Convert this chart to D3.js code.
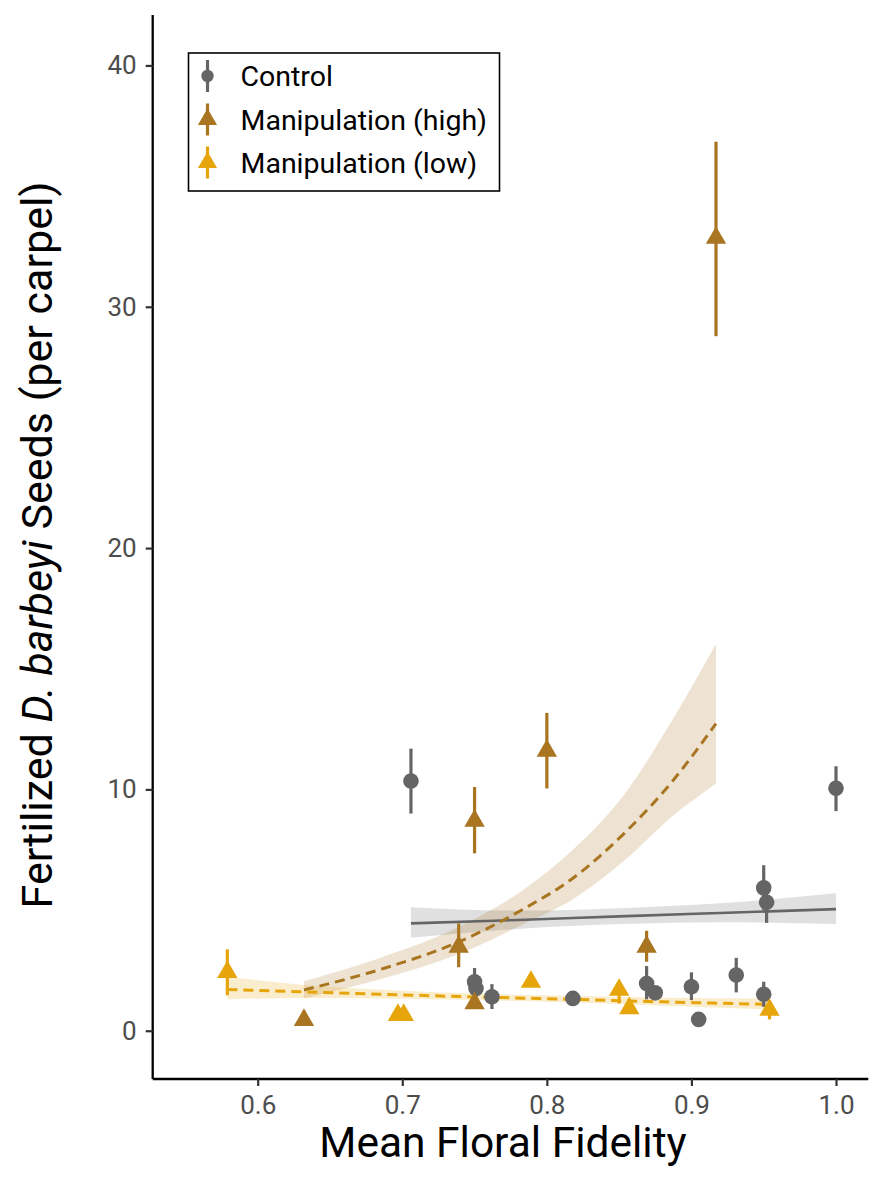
<!DOCTYPE html>
<html><head><meta charset="utf-8">
<script src="https://cdn.jsdelivr.net/npm/d3@7"></script>
<style>
body{margin:0;background:#fff}
svg{display:block}
text{font-family:Roboto,"Liberation Sans",sans-serif}
</style>
</head><body>
<svg id="chart" width="886" height="1200"></svg>
<script>
// ---------- data ----------
const groups = ["Control", "Manipulation (high)", "Manipulation (low)"];
const xTicks = [0.6, 0.7, 0.8, 0.9, 1.0];
const yTicks = [0, 10, 20, 30, 40];

const controlFidelity = [0.706, 0.750, 0.751, 0.762, 0.818, 0.869, 0.875, 0.900, 0.905, 0.931, 0.950, 0.950, 0.952, 1.000];
const controlSeeds    = [10.35, 2.03, 1.75, 1.41, 1.34, 1.96, 1.57, 1.82, 0.47, 2.31, 1.51, 5.92, 5.32, 10.05];
const controlLow      = [9.00, 1.45, 1.20, 0.90, 1.22, 1.30, 1.30, 1.27, 0.40, 1.59, 0.99, 5.00, 4.47, 9.10];
const controlHigh     = [11.69, 2.60, 2.30, 1.93, 1.46, 2.68, 1.85, 2.42, 0.54, 3.02, 2.03, 6.86, 6.10, 10.96];

const highFidelity = [0.632, 0.739, 0.750, 0.750, 0.800, 0.869, 0.917];
const highSeeds    = [0.44, 3.48, 1.13, 8.70, 11.60, 3.48, 32.85];
const highLow      = [0.38, 2.63, 0.95, 7.35, 10.04, 2.86, 28.78];
const highHigh     = [0.50, 4.45, 1.35, 10.10, 13.17, 4.14, 36.84];

const lowFidelity = [0.579, 0.697, 0.701, 0.789, 0.850, 0.857, 0.954];
const lowSeeds    = [2.43, 0.65, 0.65, 2.02, 1.69, 0.93, 0.86];
const lowLow      = [1.47, 0.58, 0.58, 1.85, 1.13, 0.82, 0.47];
const lowHigh     = [3.37, 0.75, 0.75, 2.22, 1.95, 1.05, 1.27];

// fitted curves
const controlFitX    = [0.706, 0.78, 0.85, 0.92, 1.0];
const controlFit     = [4.45, 4.59, 4.74, 4.88, 5.04];
const controlFitLow  = [3.85, 4.22, 4.42, 4.50, 4.42];
const controlFitHigh = [5.12, 4.98, 5.08, 5.28, 5.70];

const highFitX    = [0.632, 0.687, 0.739, 0.784, 0.818, 0.853, 0.887, 0.917];
const highFit     = [1.69, 2.58, 3.68, 5.05, 6.32, 8.15, 10.35, 12.73];
const highFitLow  = [1.34, 2.17, 3.18, 4.42, 5.45, 7.02, 8.90, 10.25];
const highFitHigh = [2.05, 3.07, 4.30, 5.85, 7.50, 9.75, 12.90, 16.04];

const lowFitX    = [0.579, 0.632, 0.687, 0.75, 0.818, 0.871, 0.954];
const lowFit     = [1.71, 1.61, 1.51, 1.40, 1.30, 1.21, 1.09];
const lowFitLow  = [1.30, 1.36, 1.34, 1.27, 1.17, 1.06, 0.88];
const lowFitHigh = [2.24, 1.90, 1.70, 1.54, 1.45, 1.38, 1.33];

// ---------- setup ----------
const colors = {"Control": "#656565", "Manipulation (high)": "#A97520", "Manipulation (low)": "#E6A50B"};
const svg = d3.select("#chart");
const pLeft = 152.7, pRight = 868.3, pTop = 15, pBottom = 1079;
const x = d3.scaleLinear().domain([0.52737, 1.02234]).range([pLeft, pRight]);
const y = d3.scaleLinear().domain([-2.0, 42.09]).range([pBottom, pTop]);

const zip = (xs, ys, lo, hi) => xs.map((v, i) => ({x: v, y: ys[i], lo: lo[i], hi: hi[i]}));

const fits = [
  {g: "Control", d: zip(controlFitX, controlFit, controlFitLow, controlFitHigh), dash: null},
  {g: "Manipulation (high)", d: zip(highFitX, highFit, highFitLow, highFitHigh), dash: "10,6"},
  {g: "Manipulation (low)", d: zip(lowFitX, lowFit, lowFitLow, lowFitHigh), dash: "10,6"}
];
const pts = [
  {g: "Control", shape: "circle", d: zip(controlFidelity, controlSeeds, controlLow, controlHigh)},
  {g: "Manipulation (high)", shape: "tri", d: zip(highFidelity, highSeeds, highLow, highHigh)},
  {g: "Manipulation (low)", shape: "tri", d: zip(lowFidelity, lowSeeds, lowLow, lowHigh)}
];

// ribbons
const area = d3.area().x(d => x(d.x)).y0(d => y(d.lo)).y1(d => y(d.hi)).curve(d3.curveMonotoneX);
const line = d3.line().x(d => x(d.x)).y(d => y(d.y)).curve(d3.curveMonotoneX);
fits.forEach(f => {
  svg.append("path").attr("d", area(f.d)).attr("fill", colors[f.g]).attr("fill-opacity", 0.2);
});
fits.forEach(f => {
  svg.append("path").attr("d", line(f.d)).attr("fill", "none")
    .attr("stroke", colors[f.g]).attr("stroke-width", f.dash ? 3 : 2.6)
    .attr("stroke-dasharray", f.dash);
});

// points with error bars
const tri = d3.symbol().type(d3.symbolTriangle).size(180);
pts.forEach(p => {
  const g = svg.append("g");
  g.selectAll("line").data(p.d).join("line")
    .attr("x1", d => x(d.x)).attr("x2", d => x(d.x))
    .attr("y1", d => y(d.lo)).attr("y2", d => y(d.hi))
    .attr("stroke", colors[p.g]).attr("stroke-width", 3.2);
  if (p.shape === "circle") {
    g.selectAll("circle").data(p.d).join("circle")
      .attr("cx", d => x(d.x)).attr("cy", d => y(d.y)).attr("r", 7.8)
      .attr("fill", colors[p.g]);
  } else {
    g.selectAll("path").data(p.d).join("path")
      .attr("d", tri).attr("transform", d => `translate(${x(d.x)},${y(d.y)})`)
      .attr("fill", colors[p.g]);
  }
});

// axes
const xAxis = svg.append("g").attr("transform", `translate(0,${pBottom})`)
  .call(d3.axisBottom(x).tickValues(xTicks).tickFormat(d3.format(".1f")).tickSize(7).tickPadding(10));
const yAxis = svg.append("g").attr("transform", `translate(${pLeft},0)`)
  .call(d3.axisLeft(y).tickValues(yTicks).tickSize(7).tickPadding(9));
[xAxis, yAxis].forEach(a => {
  a.select(".domain").attr("stroke", "#000").attr("stroke-width", 2.3);
  a.selectAll(".tick line").attr("stroke", "#333").attr("stroke-width", 2.2);
  a.selectAll(".tick text").attr("fill", "#4D4D4D").style("font-size", "26px")
    .style("font-family", "Roboto, 'Liberation Sans', sans-serif");
});
xAxis.select(".domain").attr("d", `M${pLeft},0H${pRight}`);
yAxis.select(".domain").attr("d", `M0,${pBottom}V${pTop}`);

// axis titles
svg.append("text").attr("x", 503).attr("y", 1157)
  .attr("text-anchor", "middle").style("font-size", "42.5px").attr("fill", "#000")
  .text("Mean Floral Fidelity");
const yt = svg.append("text").attr("transform", `translate(52,545) rotate(-90)`)
  .attr("text-anchor", "middle").style("font-size", "43px").attr("fill", "#000");
yt.append("tspan").text("Fertilized ");
yt.append("tspan").style("font-style", "italic").text("D. barbeyi");
yt.append("tspan").text(" Seeds (per carpel)");

// legend
const lg = svg.append("g");
lg.append("rect").attr("x", 188.5).attr("y", 53).attr("width", 311).attr("height", 138)
  .attr("fill", "#fff").attr("stroke", "#000").attr("stroke-width", 1.6);
const keyY = [76, 119.5, 162.5];
groups.forEach((gname, i) => {
  const cy = keyY[i];
  lg.append("line").attr("x1", 207.5).attr("x2", 207.5).attr("y1", cy - 16).attr("y2", cy + 16)
    .attr("stroke", colors[gname]).attr("stroke-width", 3.2);
  if (i === 0) {
    lg.append("circle").attr("cx", 207.5).attr("cy", cy).attr("r", 6.2).attr("fill", colors[gname]);
  } else {
    lg.append("path").attr("d", d3.symbol().type(d3.symbolTriangle).size(160)())
      .attr("transform", `translate(207.5,${cy})`).attr("fill", colors[gname]);
  }
  lg.append("text").attr("x", 240.5).attr("y", cy + 10).style("font-size", "28.5px")
    .attr("fill", "#000").text(gname);
});
</script>
</body></html>
